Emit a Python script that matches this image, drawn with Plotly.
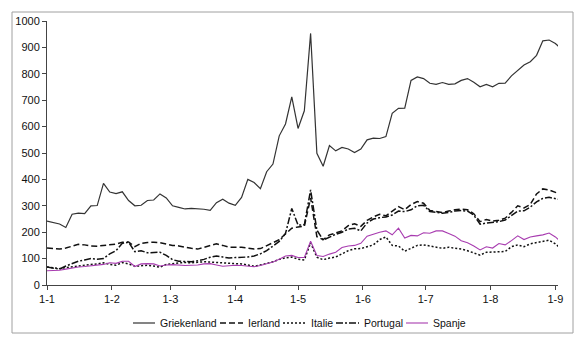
import pandas as pd
import plotly.graph_objects as go

# day offsets from 1 Jan 2010
day_offsets = list(range(0, 244, 3)) + [245]
dates = [pd.Timestamp("2010-01-01") + pd.Timedelta(days=d) for d in day_offsets]

griekenland = [242, 237, 231, 218, 268, 272, 270, 300, 301, 385,
               352, 346, 353, 320, 300, 302, 320, 322, 345, 330,
               300, 294, 288, 290, 289, 287, 283, 312, 325, 310,
               302, 332, 400, 388, 365, 429, 458, 565, 610, 713,
               593, 660, 953, 499, 450, 528, 508, 521, 515, 502,
               515, 550, 556, 555, 562, 650, 669, 670, 775, 788,
               782, 764, 760, 767, 760, 762, 775, 782, 768, 751,
               760, 751, 764, 765, 792, 814, 833, 846, 870, 925,
               928, 915, 900]
ierland = [140, 138, 136, 140, 148, 154, 152, 148, 147, 150,
           152, 155, 162, 163, 145, 158, 161, 162, 160, 155,
           150, 148, 143, 139, 136, 142, 150, 156, 150, 143,
           143, 143, 140, 136, 138, 148, 160, 172, 195, 215,
           220, 222, 330, 183, 172, 190, 197, 205, 225, 232,
           222, 245, 258, 268, 262, 280, 297, 285, 305, 316,
           310, 282, 278, 274, 280, 285, 287, 285, 270, 240,
           248, 242, 245, 253, 275, 300, 292, 305, 345, 364,
           360, 350, 345]
italie = [68, 66, 62, 66, 70, 72, 75, 77, 80, 84,
          78, 75, 85, 80, 71, 73, 75, 72, 67, 78,
          82, 84, 85, 84, 86, 88, 87, 85, 84, 82,
          81, 80, 75, 71, 76, 82, 88, 97, 103, 106,
          98, 95, 160, 105, 96, 102, 106, 118, 130, 137,
          138, 145, 152, 172, 182, 150, 148, 128, 138, 150,
          152, 147, 144, 139, 143, 140, 136, 130, 120, 113,
          124, 126, 126, 127, 145, 152, 145, 156, 160, 165,
          170, 156, 142]
portugal = [68, 64, 60, 72, 82, 90, 95, 100, 98, 100,
            118, 130, 158, 162, 126, 130, 122, 124, 124, 112,
            96, 90, 88, 88, 92, 97, 105, 110, 106, 102,
            104, 104, 106, 110, 118, 130, 148, 165, 195, 290,
            227, 228, 360, 208, 170, 182, 192, 200, 212, 215,
            205, 235, 250, 255, 258, 265, 280, 278, 285, 300,
            302, 278, 275, 272, 275, 280, 282, 280, 265, 230,
            235, 238, 240, 246, 262, 280, 281, 295, 315, 328,
            332, 328, 324]
spanje = [54, 55, 56, 60, 65, 68, 70, 72, 75, 78,
          84, 82, 90, 90, 70, 80, 81, 80, 72, 76,
          77, 75, 74, 75, 76, 80, 81, 76, 71, 73,
          75, 74, 72, 69, 74, 80, 87, 98, 110, 112,
          104, 104, 166, 112, 108, 117, 124, 142, 148, 150,
          158, 185, 194, 200, 205, 190, 215, 178, 188, 186,
          198, 196, 205, 205, 195, 185, 168, 160, 148, 133,
          145, 140, 157, 152, 168, 186, 172, 182, 186, 190,
          197, 182, 168]

tick_dates = pd.date_range("2010-01-01", "2010-09-01", freq="MS")
tick_labels = ["1-1", "1-2", "1-3", "1-4", "1-5", "1-6", "1-7", "1-8", "1-9"]
y_ticks = list(range(0, 1001, 100))

series = [
    ("Griekenland", griekenland, dict(color="#333333", width=1.2, dash="solid")),
    ("Ierland", ierland, dict(color="#111111", width=1.5, dash="6px,3px")),
    ("Italie", italie, dict(color="#111111", width=1.5, dash="2px,2px")),
    ("Portugal", portugal, dict(color="#111111", width=1.5, dash="7px,2px,2px,2px")),
    ("Spanje", spanje, dict(color="#a83cb0", width=1.1, dash="solid")),
]

# plot area geometry in pixels (for converting legend placement to paper coords)
PL, PR, PT, PB = 47, 558, 21, 285
def px_x(px):
    return (px - PL) / (PR - PL)
def px_y(py):
    return (PB - py) / (PB - PT)

fig = go.Figure()
for name, vals, line in series:
    fig.add_trace(go.Scatter(x=dates, y=vals, name=name, mode="lines", line=line,
                             showlegend=False))

# custom compact legend (line start, line end, text start) in pixels
legend_pos = [(133, 155, 158), (220, 243, 246), (283, 306, 309), (336, 359, 362), (406, 428, 431)]
legend_y = px_y(323)
shapes = [dict(type="rect", xref="paper", yref="paper",
               x0=px_x(12), x1=px_x(573), y0=px_y(333), y1=px_y(12),
               line=dict(color="#a0a0a0", width=1), fillcolor="rgba(0,0,0,0)",
               layer="below")]
annotations = []
for (name, _, line), (lx0, lx1, tx) in zip(series, legend_pos):
    shapes.append(dict(type="line", xref="paper", yref="paper",
                       x0=px_x(lx0), x1=px_x(lx1), y0=legend_y, y1=legend_y,
                       line=dict(color=line["color"], width=line["width"], dash=line["dash"])))
    annotations.append(dict(text=name, xref="paper", yref="paper", x=px_x(tx), y=legend_y,
                            xanchor="left", yanchor="middle", showarrow=False,
                            font=dict(size=10.5, color="#111111")))

fig.update_layout(
    width=584, height=352,
    margin=dict(l=PL, r=584 - PR, t=PT, b=352 - PB),
    paper_bgcolor="white", plot_bgcolor="white",
    font=dict(family="Arial, Liberation Sans, sans-serif", size=11, color="#111111"),
    showlegend=False,
    xaxis=dict(type="date", range=["2010-01-01", "2010-09-02 06:00"],
               tickvals=list(tick_dates), ticktext=tick_labels,
               showgrid=False, zeroline=False, showline=True, linecolor="#444444",
               linewidth=1, ticks="outside", ticklen=4, tickcolor="#444444",
               tickfont=dict(size=11)),
    yaxis=dict(range=[0, 1000], tickvals=y_ticks, showgrid=False, zeroline=False,
               showline=True, linecolor="#444444", linewidth=1,
               ticks="outside", ticklen=4, tickcolor="#444444",
               tickfont=dict(size=11)),
    shapes=shapes,
    annotations=annotations,
)

fig.write_html("out.html")
